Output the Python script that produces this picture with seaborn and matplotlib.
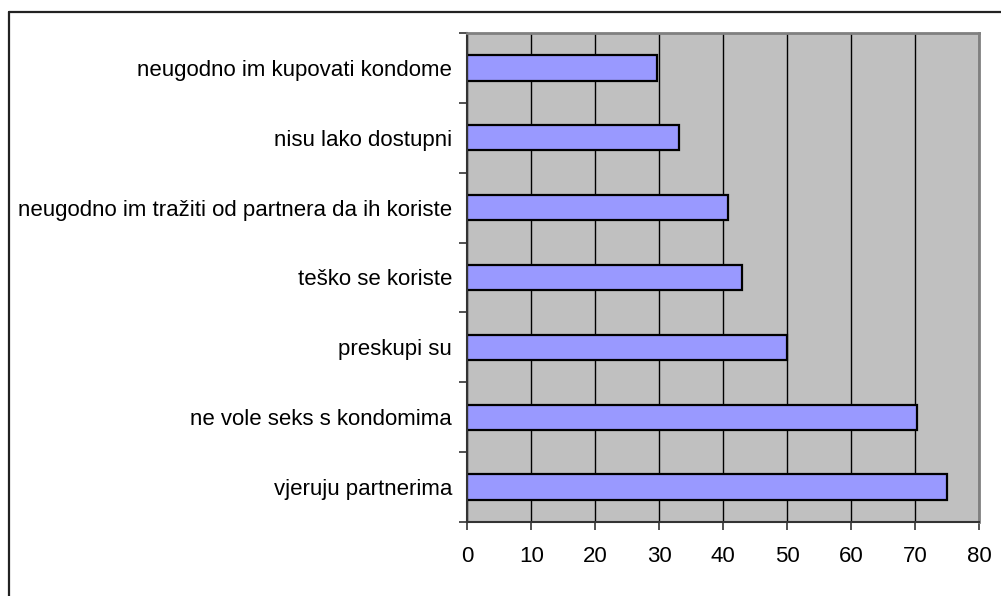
import matplotlib
matplotlib.use("Agg")
import matplotlib.pyplot as plt
from matplotlib import font_manager
from matplotlib.lines import Line2D
import seaborn as sns
import pandas as pd

# Reasons given for not using condoms (percent of respondents)
reasons = [
    "neugodno im kupovati kondome",
    "nisu lako dostupni",
    "neugodno im tražiti od partnera da ih koriste",
    "teško se koriste",
    "preskupi su",
    "ne vole seks s kondomima",
    "vjeruju partnerima",
]
percent = [29.7, 33.1, 40.7, 42.9, 50.0, 70.3, 75.0]
x_ticks = [0, 10, 20, 30, 40, 50, 60, 70, 80]

sns.set_theme(style="white")

installed = {f.name for f in font_manager.fontManager.ttflist}
family = "Liberation Sans Narrow" if "Liberation Sans Narrow" in installed else "Liberation Sans"
font_size = 17.5 if family == "Liberation Sans Narrow" else 16
plt.rcParams["font.family"] = [family, "DejaVu Sans"]

df = pd.DataFrame({"reason": reasons, "percent": percent})

fig = plt.figure(figsize=(10.01, 5.96), dpi=100)
ax = fig.add_axes([0.467, 0.1242, 0.511, 0.8204])
ax.set_facecolor("#C0C0C0")

sns.barplot(data=df, x="percent", y="reason", orient="h", color="#9999FF",
            saturation=1, edgecolor="black", linewidth=1.6, width=0.36, ax=ax)

ax.set_xlim(0, 80)
ax.set_ylim(len(reasons) - 0.5, -0.5)
ax.set_xticks(x_ticks)
ax.set_xticklabels([str(t) for t in x_ticks], fontsize=font_size, color="black")
ax.set_xlabel("")
ax.set_ylabel("")

# category labels centred on bars, ticks drawn at category boundaries
ax.set_yticks(range(len(reasons)))
ax.set_yticklabels(reasons, fontsize=font_size, color="black")
ax.tick_params(axis="y", which="major", length=0, pad=11)
ax.set_yticks([i - 0.5 for i in range(len(reasons) + 1)], minor=True)
ax.tick_params(axis="y", which="minor", length=6, width=1.2, color="#333333", direction="out", left=True)
ax.tick_params(axis="x", which="major", length=6, width=1.2, color="#333333",
               direction="out", bottom=True, pad=11)

ax.xaxis.grid(True, color="black", linewidth=1.0)
ax.yaxis.grid(False)
ax.set_axisbelow(True)

for side in ("left", "bottom"):
    ax.spines[side].set_color("#333333")
    ax.spines[side].set_linewidth(1.5)
for side in ("top", "right"):
    ax.spines[side].set_visible(True)
    ax.spines[side].set_color("#808080")
    ax.spines[side].set_linewidth(2)

# chart frame (top and left edges)
fx = 8.5 / 1001
fy = 1 - 11.5 / 596
fig.add_artist(Line2D([fx, fx], [0, fy], transform=fig.transFigure, color="#222222", linewidth=1.6))
fig.add_artist(Line2D([fx, 1], [fy, fy], transform=fig.transFigure, color="#222222", linewidth=1.6))

fig.savefig("out.png", dpi=100, facecolor="white")
